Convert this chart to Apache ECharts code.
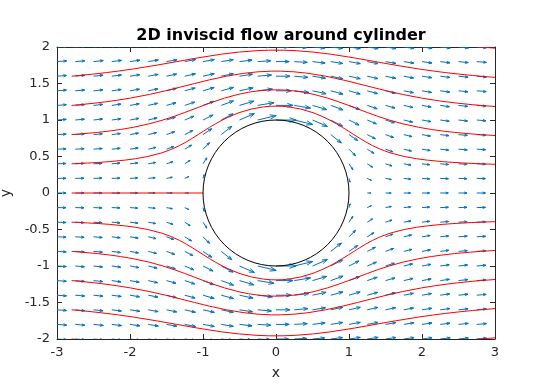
<!DOCTYPE html>
<html>
<head>
<meta charset="utf-8">
<script src="https://cdn.jsdelivr.net/npm/echarts@6/dist/echarts.min.js"></script>
<style>html,body{margin:0;padding:0;background:#fff;}#c{width:540px;height:390px;}</style>
</head>
<body>
<div id="c"></div>
<script>
// ---- quiver grid ----
const xGrid = [-3,-2.75,-2.5,-2.25,-2,-1.75,-1.5,-1.25,-1,-0.75,-0.5,-0.25,0,0.25,0.5,0.75,1,1.25,1.5,1.75,2,2.25,2.5,2.75,3];
const yGrid = [2,1.8,1.6,1.4,1.2,1,0.8,0.6,0.4,0.2,0,-0.2,-0.4,-0.6,-0.8,-1,-1.2,-1.4,-1.6,-1.8,-2];
const uRows = [
[0.97,0.97,0.98,0.99,1.00,1.02,1.04,1.08,1.12,1.17,1.21,1.24,1.25,1.24,1.21,1.17,1.12,1.08,1.04,1.02,1.00,0.99,0.98,0.97,0.97],
[0.96,0.96,0.97,0.97,0.99,1.00,1.03,1.07,1.12,1.19,1.25,1.29,1.31,1.29,1.25,1.19,1.12,1.07,1.03,1.00,0.99,0.97,0.97,0.96,0.96],
[0.95,0.95,0.95,0.96,0.97,0.98,1.01,1.06,1.12,1.20,1.29,1.36,1.39,1.36,1.29,1.20,1.12,1.06,1.01,0.98,0.97,0.96,0.95,0.95,0.95],
[0.94,0.94,0.94,0.94,0.94,0.96,0.98,1.03,1.11,1.22,1.35,1.46,1.51,1.46,1.35,1.22,1.11,1.03,0.98,0.96,0.94,0.94,0.94,0.94,0.94],
[0.93,0.92,0.92,0.91,0.91,0.92,0.94,0.99,1.07,1.22,1.42,1.61,1.69,1.61,1.42,1.22,1.07,0.99,0.94,0.92,0.91,0.91,0.92,0.92,0.93],
[0.92,0.91,0.90,0.89,0.88,0.88,0.88,0.91,1.00,1.18,1.48,1.83,2.00,1.83,1.48,1.18,1.00,0.91,0.88,0.88,0.88,0.89,0.90,0.91,0.92],
[0.91,0.90,0.88,0.86,0.84,0.82,0.81,0.81,0.87,1.05,null,null,null,null,null,1.05,0.87,0.81,0.81,0.82,0.84,0.86,0.88,0.90,0.91],
[0.90,0.88,0.87,0.84,0.81,0.77,0.72,0.67,0.65,null,null,null,null,null,null,null,0.65,0.67,0.72,0.77,0.81,0.84,0.87,0.88,0.90],
[0.89,0.88,0.85,0.82,0.78,0.72,0.64,0.53,0.38,null,null,null,null,null,null,null,0.38,0.53,0.64,0.72,0.78,0.82,0.85,0.88,0.89],
[0.89,0.87,0.84,0.81,0.76,0.69,0.58,0.41,0.11,null,null,null,null,null,null,null,0.11,0.41,0.58,0.69,0.76,0.81,0.84,0.87,0.89],
[0.89,0.87,0.84,0.80,0.75,0.67,0.56,0.36,0.00,null,null,null,null,null,null,null,0.00,0.36,0.56,0.67,0.75,0.80,0.84,0.87,0.89],
[0.89,0.87,0.84,0.81,0.76,0.69,0.58,0.41,0.11,null,null,null,null,null,null,null,0.11,0.41,0.58,0.69,0.76,0.81,0.84,0.87,0.89],
[0.89,0.88,0.85,0.82,0.78,0.72,0.64,0.53,0.38,null,null,null,null,null,null,null,0.38,0.53,0.64,0.72,0.78,0.82,0.85,0.88,0.89],
[0.90,0.88,0.87,0.84,0.81,0.77,0.72,0.67,0.65,null,null,null,null,null,null,null,0.65,0.67,0.72,0.77,0.81,0.84,0.87,0.88,0.90],
[0.91,0.90,0.88,0.86,0.84,0.82,0.81,0.81,0.87,1.05,null,null,null,null,null,1.05,0.87,0.81,0.81,0.82,0.84,0.86,0.88,0.90,0.91],
[0.92,0.91,0.90,0.89,0.88,0.88,0.88,0.91,1.00,1.18,1.48,1.83,2.00,1.83,1.48,1.18,1.00,0.91,0.88,0.88,0.88,0.89,0.90,0.91,0.92],
[0.93,0.92,0.92,0.91,0.91,0.92,0.94,0.99,1.07,1.22,1.42,1.61,1.69,1.61,1.42,1.22,1.07,0.99,0.94,0.92,0.91,0.91,0.92,0.92,0.93],
[0.94,0.94,0.94,0.94,0.94,0.96,0.98,1.03,1.11,1.22,1.35,1.46,1.51,1.46,1.35,1.22,1.11,1.03,0.98,0.96,0.94,0.94,0.94,0.94,0.94],
[0.95,0.95,0.95,0.96,0.97,0.98,1.01,1.06,1.12,1.20,1.29,1.36,1.39,1.36,1.29,1.20,1.12,1.06,1.01,0.98,0.97,0.96,0.95,0.95,0.95],
[0.96,0.96,0.97,0.97,0.99,1.00,1.03,1.07,1.12,1.19,1.25,1.29,1.31,1.29,1.25,1.19,1.12,1.07,1.03,1.00,0.99,0.97,0.97,0.96,0.96],
[0.97,0.97,0.98,0.99,1.00,1.02,1.04,1.08,1.12,1.17,1.21,1.24,1.25,1.24,1.21,1.17,1.12,1.08,1.04,1.02,1.00,0.99,0.98,0.97,0.97]
];
const vRows = [
[0.07,0.08,0.10,0.11,0.13,0.14,0.15,0.16,0.16,0.14,0.11,0.06,0,-0.06,-0.11,-0.14,-0.16,-0.16,-0.15,-0.14,-0.13,-0.11,-0.10,-0.08,-0.07],
[0.07,0.08,0.10,0.12,0.14,0.16,0.18,0.20,0.20,0.19,0.15,0.08,0,-0.08,-0.15,-0.19,-0.20,-0.20,-0.18,-0.16,-0.14,-0.12,-0.10,-0.08,-0.07],
[0.07,0.09,0.10,0.12,0.15,0.18,0.21,0.24,0.25,0.25,0.20,0.12,0,-0.12,-0.20,-0.25,-0.25,-0.24,-0.21,-0.18,-0.15,-0.12,-0.10,-0.09,-0.07],
[0.07,0.08,0.10,0.13,0.16,0.19,0.24,0.28,0.32,0.33,0.29,0.17,0,-0.17,-0.29,-0.33,-0.32,-0.28,-0.24,-0.19,-0.16,-0.13,-0.10,-0.08,-0.07],
[0.07,0.08,0.10,0.13,0.16,0.21,0.26,0.33,0.40,0.45,0.42,0.27,0,-0.27,-0.42,-0.45,-0.40,-0.33,-0.26,-0.21,-0.16,-0.13,-0.10,-0.08,-0.07],
[0.06,0.08,0.10,0.12,0.16,0.21,0.28,0.38,0.50,0.61,0.64,0.44,0,-0.44,-0.64,-0.61,-0.50,-0.38,-0.28,-0.21,-0.16,-0.12,-0.10,-0.08,-0.06],
[0.05,0.07,0.08,0.11,0.15,0.20,0.29,0.41,0.59,0.83,null,null,null,null,null,-0.83,-0.59,-0.41,-0.29,-0.20,-0.15,-0.11,-0.08,-0.07,-0.05],
[0.04,0.05,0.07,0.09,0.13,0.18,0.26,0.41,0.65,null,null,null,null,null,null,null,-0.65,-0.41,-0.26,-0.18,-0.13,-0.09,-0.07,-0.05,-0.04],
[0.03,0.04,0.05,0.07,0.09,0.13,0.21,0.34,0.59,null,null,null,null,null,null,null,-0.59,-0.34,-0.21,-0.13,-0.09,-0.07,-0.05,-0.04,-0.03],
[0.01,0.02,0.03,0.03,0.05,0.07,0.11,0.19,0.37,null,null,null,null,null,null,null,-0.37,-0.19,-0.11,-0.07,-0.05,-0.03,-0.03,-0.02,-0.01],
[0,0,0,0,0,0,0,0,0,null,null,null,null,null,null,null,0,0,0,0,0,0,0,0,0],
[-0.01,-0.02,-0.03,-0.03,-0.05,-0.07,-0.11,-0.19,-0.37,null,null,null,null,null,null,null,0.37,0.19,0.11,0.07,0.05,0.03,0.03,0.02,0.01],
[-0.03,-0.04,-0.05,-0.07,-0.09,-0.13,-0.21,-0.34,-0.59,null,null,null,null,null,null,null,0.59,0.34,0.21,0.13,0.09,0.07,0.05,0.04,0.03],
[-0.04,-0.05,-0.07,-0.09,-0.13,-0.18,-0.26,-0.41,-0.65,null,null,null,null,null,null,null,0.65,0.41,0.26,0.18,0.13,0.09,0.07,0.05,0.04],
[-0.05,-0.07,-0.08,-0.11,-0.15,-0.20,-0.29,-0.41,-0.59,-0.83,null,null,null,null,null,0.83,0.59,0.41,0.29,0.20,0.15,0.11,0.08,0.07,0.05],
[-0.06,-0.08,-0.10,-0.12,-0.16,-0.21,-0.28,-0.38,-0.50,-0.61,-0.64,-0.44,0,0.44,0.64,0.61,0.50,0.38,0.28,0.21,0.16,0.12,0.10,0.08,0.06],
[-0.07,-0.08,-0.10,-0.13,-0.16,-0.21,-0.26,-0.33,-0.40,-0.45,-0.42,-0.27,0,0.27,0.42,0.45,0.40,0.33,0.26,0.21,0.16,0.13,0.10,0.08,0.07],
[-0.07,-0.08,-0.10,-0.13,-0.16,-0.19,-0.24,-0.28,-0.32,-0.33,-0.29,-0.17,0,0.17,0.29,0.33,0.32,0.28,0.24,0.19,0.16,0.13,0.10,0.08,0.07],
[-0.07,-0.09,-0.10,-0.12,-0.15,-0.18,-0.21,-0.24,-0.25,-0.25,-0.20,-0.12,0,0.12,0.20,0.25,0.25,0.24,0.21,0.18,0.15,0.12,0.10,0.09,0.07],
[-0.07,-0.08,-0.10,-0.12,-0.14,-0.16,-0.18,-0.20,-0.20,-0.19,-0.15,-0.08,0,0.08,0.15,0.19,0.20,0.20,0.18,0.16,0.14,0.12,0.10,0.08,0.07],
[-0.07,-0.08,-0.10,-0.11,-0.13,-0.14,-0.15,-0.16,-0.16,-0.14,-0.11,-0.06,0,0.06,0.11,0.14,0.16,0.16,0.15,0.14,0.13,0.11,0.10,0.08,0.07]
];

// ---- streamlines (x, y pairs), seeded at x = -2.8 ----
const streamP20 = [[-2.8,2.0],[-2.272,2.05],[-1.844,2.1],[-1.06,2.2],[0,2.271],[1.06,2.2],[1.844,2.1],[2.272,2.05],[2.8,2.0],[3,1.984]];
const streamP16 = [[-2.8,1.60],[-2.69,1.61],[-2.492,1.63],[-2.318,1.65],[-2.161,1.67],[-1.951,1.70],[-1.642,1.75],[-1.359,1.80],[-1.076,1.85],[-0.759,1.90],[-0.514,1.93],[-0.26,1.95],[-0.102,1.956],[0,1.957],[0.102,1.956],[0.26,1.95],[0.514,1.93],[0.759,1.90],[1.076,1.85],[1.359,1.80],[1.642,1.75],[1.951,1.70],[2.161,1.67],[2.318,1.65],[2.492,1.63],[2.69,1.61],[2.8,1.60],[3,1.584]];
const streamP12 = [[-2.8,1.20],[-2.687,1.21],[-2.492,1.23],[-2.326,1.25],[-2.182,1.27],[-1.995,1.30],[-1.735,1.35],[-1.514,1.40],[-1.312,1.45],[-1.115,1.50],[-0.912,1.55],[-0.68,1.60],[-0.437,1.64],[-0.247,1.66],[-0.063,1.669],[0,1.67],[0.063,1.669],[0.247,1.66],[0.437,1.64],[0.68,1.60],[0.912,1.55],[1.115,1.50],[1.312,1.45],[1.514,1.40],[1.735,1.35],[1.995,1.30],[2.182,1.27],[2.326,1.25],[2.492,1.23],[2.687,1.21],[2.8,1.20],[3,1.185]];
const streamP08 = [[-2.8,0.80],[-2.666,0.81],[-2.447,0.83],[-2.273,0.85],[-2.13,0.87],[-1.955,0.90],[-1.728,0.95],[-1.548,1.00],[-1.395,1.05],[-1.257,1.10],[-1.125,1.15],[-0.994,1.20],[-0.857,1.25],[-0.705,1.30],[-0.522,1.35],[-0.377,1.38],[-0.237,1.40],[-0.117,1.41],[-0.073,1.412],[0,1.413],[0.073,1.412],[0.117,1.41],[0.237,1.40],[0.377,1.38],[0.522,1.35],[0.705,1.30],[0.857,1.25],[0.994,1.20],[1.125,1.15],[1.257,1.10],[1.395,1.05],[1.548,1.00],[1.728,0.95],[1.955,0.90],[2.13,0.87],[2.273,0.85],[2.447,0.83],[2.666,0.81],[2.8,0.80],[3,0.7875]];
const streamP04 = [[-2.8,0.40],[-2.582,0.41],[-2.413,0.42],[-2.278,0.43],[-2.073,0.45],[-1.922,0.47],[-1.756,0.50],[-1.564,0.55],[-1.428,0.60],[-1.321,0.65],[-1.229,0.70],[-1.146,0.75],[-1.067,0.80],[-0.989,0.85],[-0.909,0.90],[-0.825,0.95],[-0.734,1.00],[-0.63,1.05],[-0.507,1.10],[-0.339,1.15],[-0.171,1.18],[-0.08,1.188],[0,1.19],[0.08,1.188],[0.171,1.18],[0.339,1.15],[0.507,1.10],[0.63,1.05],[0.734,1.00],[0.825,0.95],[0.909,0.90],[0.989,0.85],[1.067,0.80],[1.146,0.75],[1.229,0.70],[1.321,0.65],[1.428,0.60],[1.564,0.55],[1.756,0.50],[1.922,0.47],[2.073,0.45],[2.278,0.43],[2.413,0.42],[2.582,0.41],[2.8,0.40],[3,0.393]];
const stream00 = [[-2.8,0],[-1.0,0]];
const streamM04 = [[-2.8,-0.40],[-2.582,-0.41],[-2.413,-0.42],[-2.278,-0.43],[-2.073,-0.45],[-1.922,-0.47],[-1.756,-0.50],[-1.564,-0.55],[-1.428,-0.60],[-1.321,-0.65],[-1.229,-0.70],[-1.146,-0.75],[-1.067,-0.80],[-0.989,-0.85],[-0.909,-0.90],[-0.825,-0.95],[-0.734,-1.00],[-0.63,-1.05],[-0.507,-1.10],[-0.339,-1.15],[-0.171,-1.18],[-0.08,-1.188],[0,-1.19],[0.08,-1.188],[0.171,-1.18],[0.339,-1.15],[0.507,-1.10],[0.63,-1.05],[0.734,-1.00],[0.825,-0.95],[0.909,-0.90],[0.989,-0.85],[1.067,-0.80],[1.146,-0.75],[1.229,-0.70],[1.321,-0.65],[1.428,-0.60],[1.564,-0.55],[1.756,-0.50],[1.922,-0.47],[2.073,-0.45],[2.278,-0.43],[2.413,-0.42],[2.582,-0.41],[2.8,-0.40],[3,-0.393]];
const streamM08 = [[-2.8,-0.80],[-2.666,-0.81],[-2.447,-0.83],[-2.273,-0.85],[-2.13,-0.87],[-1.955,-0.90],[-1.728,-0.95],[-1.548,-1.00],[-1.395,-1.05],[-1.257,-1.10],[-1.125,-1.15],[-0.994,-1.20],[-0.857,-1.25],[-0.705,-1.30],[-0.522,-1.35],[-0.377,-1.38],[-0.237,-1.40],[-0.117,-1.41],[-0.073,-1.412],[0,-1.413],[0.073,-1.412],[0.117,-1.41],[0.237,-1.40],[0.377,-1.38],[0.522,-1.35],[0.705,-1.30],[0.857,-1.25],[0.994,-1.20],[1.125,-1.15],[1.257,-1.10],[1.395,-1.05],[1.548,-1.00],[1.728,-0.95],[1.955,-0.90],[2.13,-0.87],[2.273,-0.85],[2.447,-0.83],[2.666,-0.81],[2.8,-0.80],[3,-0.7875]];
const streamM12 = [[-2.8,-1.20],[-2.687,-1.21],[-2.492,-1.23],[-2.326,-1.25],[-2.182,-1.27],[-1.995,-1.30],[-1.735,-1.35],[-1.514,-1.40],[-1.312,-1.45],[-1.115,-1.50],[-0.912,-1.55],[-0.68,-1.60],[-0.437,-1.64],[-0.247,-1.66],[-0.063,-1.669],[0,-1.67],[0.063,-1.669],[0.247,-1.66],[0.437,-1.64],[0.68,-1.60],[0.912,-1.55],[1.115,-1.50],[1.312,-1.45],[1.514,-1.40],[1.735,-1.35],[1.995,-1.30],[2.182,-1.27],[2.326,-1.25],[2.492,-1.23],[2.687,-1.21],[2.8,-1.20],[3,-1.185]];
const streamM16 = [[-2.8,-1.60],[-2.69,-1.61],[-2.492,-1.63],[-2.318,-1.65],[-2.161,-1.67],[-1.951,-1.70],[-1.642,-1.75],[-1.359,-1.80],[-1.076,-1.85],[-0.759,-1.90],[-0.514,-1.93],[-0.26,-1.95],[-0.102,-1.956],[0,-1.957],[0.102,-1.956],[0.26,-1.95],[0.514,-1.93],[0.759,-1.90],[1.076,-1.85],[1.359,-1.80],[1.642,-1.75],[1.951,-1.70],[2.161,-1.67],[2.318,-1.65],[2.492,-1.63],[2.69,-1.61],[2.8,-1.60],[3,-1.584]];
const streamM20 = [[-2.8,-2.0],[-2.272,-2.05],[-1.844,-2.1],[-1.06,-2.2],[0,-2.271],[1.06,-2.2],[1.844,-2.1],[2.272,-2.05],[2.8,-2.0],[3,-1.984]];

// ---- cylinder ----
const cylinderCenter = [0, 0];
const cylinderRadius = 1;

// ---- axes ----
const xTicks = [-3,-2,-1,0,1,2,3];
const yTicks = [-2,-1.5,-1,-0.5,0,0.5,1,1.5,2];
const titleText = '2D inviscid flow around cylinder';

const ARROW_SCALE = 0.138;
const HEAD_A = 0.33, HEAD_B = 0.35;
const QCOLOR = '#0072BD';
const AX = '#262626';
const FONT = 'DejaVu Sans';

const quiverData = [];
for (let i = 0; i < yGrid.length; i++) {
  for (let j = 0; j < xGrid.length; j++) {
    const u = uRows[i][j], v = vRows[i][j];
    if (u === null || v === null) continue;
    quiverData.push([xGrid[j], yGrid[i], u, v]);
  }
}

const streams = [streamP20, streamP16, streamP12, streamP08, streamP04, stream00, streamM04, streamM08, streamM12, streamM16, streamM20];
// one item per streamline: [x of seed, y of seed, index]
const streamItems = streams.map(function (s, k) { return [s[0][0], s[0][1], k]; });

const chart = echarts.init(document.getElementById('c'), null, {renderer: 'canvas'});

function axisCommon(extra) {
  return Object.assign({
    type: 'value',
    axisLine: {show: true, onZero: false, lineStyle: {color: AX, width: 1}},
    axisTick: {show: true, inside: true, length: 5, lineStyle: {color: AX, width: 1}},
    splitLine: {show: false},
    axisLabel: {color: AX, fontFamily: FONT, fontSize: 13}
  }, extra);
}

function clipRect(params) {
  const cs = params.coordSys;
  return {type: 'rect', shape: {x: cs.x, y: cs.y, width: cs.width, height: cs.height}};
}

const option = {
  animation: false,
  backgroundColor: '#ffffff',
  title: {
    text: titleText,
    left: 276, top: 23, textAlign: 'center',
    textStyle: {fontFamily: FONT, fontWeight: 'bold', fontSize: 16, color: '#000'}
  },
  grid: {left: 57, right: 45, top: 47, bottom: 51, containLabel: false, outerBoundsMode: 'none'},
  xAxis: [
    axisCommon({min: -3, max: 3, interval: 1, position: 'bottom',
      name: 'x', nameLocation: 'middle', nameGap: 27,
      nameTextStyle: {color: AX, fontFamily: FONT, fontSize: 14},
      axisLabel: {color: AX, fontFamily: FONT, fontSize: 13, margin: 7,
        formatter: function (val) { return xTicks.indexOf(val) >= 0 ? String(val) : ''; }}}),
    axisCommon({min: -3, max: 3, interval: 1, position: 'top', axisLabel: {show: false}})
  ],
  yAxis: [
    axisCommon({min: -2, max: 2, interval: 0.5, position: 'left',
      name: 'y', nameLocation: 'middle', nameGap: 29,
      nameTextStyle: {color: AX, fontFamily: FONT, fontSize: 14},
      axisLabel: {color: AX, fontFamily: FONT, fontSize: 13, margin: 7,
        formatter: function (val) { return yTicks.indexOf(val) >= 0 ? String(val) : ''; }}}),
    axisCommon({min: -2, max: 2, interval: 0.5, position: 'right', axisLabel: {show: false}})
  ],
  series: [
    {
      type: 'custom',
      name: 'quiver',
      coordinateSystem: 'cartesian2d',
      xAxisIndex: 0, yAxisIndex: 0,
      silent: true,
      data: quiverData,
      encode: {x: 0, y: 1},
      z: 2,
      renderItem: function (params, api) {
        const x = api.value(0), y = api.value(1);
        const u = api.value(2) * ARROW_SCALE, v = api.value(3) * ARROW_SCALE;
        if (u === 0 && v === 0) return {type: 'group', children: []};
        const p0 = api.coord([x, y]);
        const p1 = api.coord([x + u, y + v]);
        const h1 = api.coord([x + u - HEAD_A * (u + HEAD_B * v), y + v - HEAD_A * (v - HEAD_B * u)]);
        const h2 = api.coord([x + u - HEAD_A * (u - HEAD_B * v), y + v - HEAD_A * (v + HEAD_B * u)]);
        return {
          type: 'group',
          clipPath: clipRect(params),
          children: [
            {type: 'line', shape: {x1: p0[0], y1: p0[1], x2: p1[0], y2: p1[1]}, style: {stroke: QCOLOR, lineWidth: 1, fill: null}},
            {type: 'polyline', shape: {points: [h1, p1, h2]}, style: {stroke: QCOLOR, lineWidth: 1, fill: null}}
          ]
        };
      }
    },
    {
      type: 'custom',
      name: 'streamlines',
      coordinateSystem: 'cartesian2d',
      silent: true,
      data: streamItems,
      encode: {x: 0, y: 1},
      z: 3,
      renderItem: function (params, api) {
        const s = streams[api.value(2)];
        const pts = s.map(function (p) { return api.coord(p); });
        return {
          type: 'group',
          clipPath: clipRect(params),
          children: [{type: 'polyline', shape: {points: pts}, style: {stroke: '#ff0000', lineWidth: 1, fill: null}}]
        };
      }
    },
    {
      type: 'custom',
      name: 'cylinder',
      coordinateSystem: 'cartesian2d',
      silent: true,
      z: 4,
      data: [[cylinderCenter[0], cylinderCenter[1], cylinderRadius]],
      encode: {x: 0, y: 1},
      renderItem: function (params, api) {
        const c = api.coord([api.value(0), api.value(1)]);
        const r = api.size([api.value(2), 0])[0];
        return {type: 'circle', shape: {cx: c[0], cy: c[1], r: r}, style: {fill: null, stroke: '#000000', lineWidth: 1}};
      }
    }
  ]
};
chart.setOption(option);
</script>
</body>
</html>
